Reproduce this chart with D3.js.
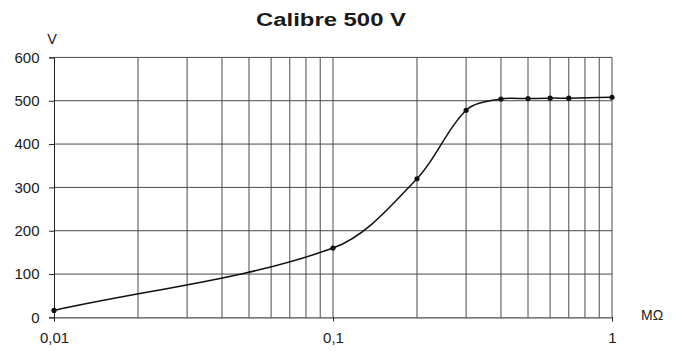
<!DOCTYPE html>
<html>
<head>
<meta charset="utf-8">
<script src="https://cdn.jsdelivr.net/npm/d3@7"></script>
<style>
  html, body { margin: 0; padding: 0; background: #fff; }
  svg { display: block; font-family: "Liberation Sans", Arial, sans-serif; }
</style>
</head>
<body>
<svg id="chart" width="673" height="351"></svg>
<script>
// Measured voltage against insulation resistance, 500 V range
const resistance = [0.01, 0.1, 0.2, 0.3, 0.4, 0.5, 0.6, 0.7, 1];
const voltage    = [16, 160, 320, 478, 504, 505, 506, 506, 508];

const yTicks = [0, 100, 200, 300, 400, 500, 600];
const xLabelTicks = [0.01, 0.1, 1];
const xLabelText = ["0,01", "0,1", "1"];
const xGridTicks = [0.02, 0.03, 0.04, 0.05, 0.06, 0.07, 0.08, 0.09, 0.1,
                    0.2, 0.3, 0.4, 0.5, 0.6, 0.7, 0.8, 0.9, 1];

const svg = d3.select("#chart");
const m = { left: 54, right: 612, top: 57.4, bottom: 317.4 };

const x = d3.scaleLog().domain([0.01, 1]).range([m.left, m.right]);
const y = d3.scaleLinear().domain([0, 600]).range([m.bottom, m.top]);

const gridColor = "#4a4a4a";
const textColor = "#1a1a1a";
const font = "Liberation Sans, Arial, sans-serif";

// Smooth Hermite curve: tangent direction from neighbouring points,
// handle length proportional to each segment's chord length.
function curveChordHermite(context) {
  let pts = [];
  return {
    areaStart() {}, areaEnd() {},
    lineStart() { pts = []; },
    point(px, py) { pts.push([+px, +py]); },
    lineEnd() {
      const n = pts.length;
      if (!n) return;
      const dist = (a, b) => Math.hypot(b[0] - a[0], b[1] - a[1]);
      const d = [];
      for (let i = 0; i < n - 1; i++) d.push(dist(pts[i], pts[i + 1]));
      const tan = pts.map((p, i) => {
        const a = pts[Math.max(0, i - 1)], b = pts[Math.min(n - 1, i + 1)];
        const len = (i > 0 ? d[i - 1] : 0) + (i < n - 1 ? d[i] : 0);
        return [(b[0] - a[0]) / len, (b[1] - a[1]) / len];
      });
      context.moveTo(pts[0][0], pts[0][1]);
      for (let i = 0; i < n - 1; i++) {
        const h = d[i] / 3, p = pts[i], q = pts[i + 1];
        context.bezierCurveTo(
          p[0] + tan[i][0] * h, p[1] + tan[i][1] * h,
          q[0] - tan[i + 1][0] * h, q[1] - tan[i + 1][1] * h,
          q[0], q[1]);
      }
    }
  };
}

// vertical grid lines
svg.append("g").selectAll("line").data(xGridTicks).join("line")
  .attr("x1", d => x(d)).attr("x2", d => x(d))
  .attr("y1", m.top).attr("y2", m.bottom)
  .attr("stroke", gridColor).attr("stroke-width", 1);

// horizontal grid lines
svg.append("g").selectAll("line").data(yTicks.slice(1)).join("line")
  .attr("x1", m.left).attr("x2", m.right)
  .attr("y1", d => y(d)).attr("y2", d => y(d))
  .attr("stroke", gridColor).attr("stroke-width", 1);

// left axis
const yAxis = d3.axisLeft(y).tickValues(yTicks).tickSize(5).tickPadding(9.5);
const gy = svg.append("g").attr("transform", `translate(${m.left},0)`).call(yAxis);
gy.select(".domain").attr("stroke", "#222");
gy.selectAll(".tick line").attr("stroke", "#222");
gy.selectAll(".tick text").attr("font-size", 15).attr("fill", textColor)
  .attr("font-family", font);

// bottom axis
const xAxis = d3.axisBottom(x).tickValues(xLabelTicks)
  .tickFormat((d, i) => xLabelText[i]).tickSize(4).tickPadding(11);
const gx = svg.append("g").attr("transform", `translate(0,${m.bottom})`).call(xAxis);
gx.select(".domain").attr("stroke", "#222");
gx.selectAll(".tick line").attr("stroke", "#222");
gx.selectAll(".tick text").attr("font-size", 15).attr("fill", textColor)
  .attr("font-family", font);

// curve
const pts = resistance.map((r, i) => [r, voltage[i]]);
const line = d3.line().x(d => x(d[0])).y(d => y(d[1])).curve(curveChordHermite);
svg.append("path").datum(pts).attr("d", line)
  .attr("fill", "none").attr("stroke", "#111").attr("stroke-width", 1.5);

svg.append("g").selectAll("circle").data(pts).join("circle")
  .attr("cx", d => x(d[0])).attr("cy", d => y(d[1])).attr("r", 2.6)
  .attr("fill", "#111");

// titles and units
svg.append("text").attr("x", 331).attr("y", 25.7).attr("text-anchor", "middle")
  .attr("font-size", 17.5).attr("font-weight", "bold").attr("fill", textColor)
  .attr("textLength", 150).attr("lengthAdjust", "spacingAndGlyphs")
  .text("Calibre 500 V");
svg.append("text").attr("x", 52).attr("y", 43.5).attr("text-anchor", "middle")
  .attr("font-size", 14.5).attr("fill", textColor).text("V");
svg.append("text").attr("x", 641).attr("y", 320)
  .attr("font-size", 14).attr("fill", textColor).text("MΩ");
</script>
</body>
</html>
